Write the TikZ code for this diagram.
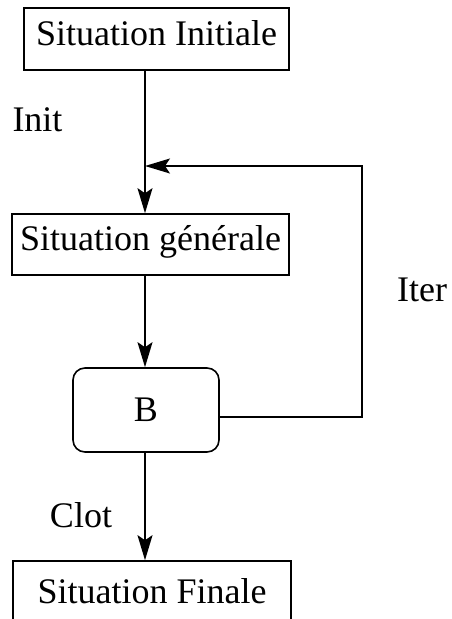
\documentclass[tikz,border=0pt]{standalone}
\usepackage{fontspec}
\setmainfont{Liberation Serif}
\usetikzlibrary{positioning,arrows.meta}

\begin{document}
\begin{tikzpicture}[x=1pt,y=-1pt,line width=1.6pt,
    font=\fontsize{36}{42}\selectfont,
    arr/.style={-{Stealth[length=25pt,width=15pt,inset=5pt]}},
    sit/.style={draw,rectangle,inner sep=0pt,text height=23pt,text depth=11pt},
    blk/.style={draw,rounded corners=12pt,inner sep=0pt,minimum width=146pt,minimum height=84pt}]
    \useasboundingbox (0,0) rectangle (451,619);

    \node[sit,minimum width=265pt,minimum height=62pt] (A) at (156.5,39)  {Situation Initiale};
    \node[sit,minimum width=277pt,minimum height=61pt] (G) at (150.5,244.5) {Situation générale};
    \node[blk]                                         (B) at (146,410)   {B};
    \node[sit,minimum width=278pt,minimum height=72pt] (F) at (152,597)   {Situation Finale};

    \coordinate (J) at (145,166);
    \coordinate (R) at (362,166);

    \node (init) at (37.5,120) {Init};
    \node (iter) at (422,290)  {Iter};
    \node (clot) at (81,515)   {Clot};

    % paths down the chain
    \draw[arr] (J |- A.south) -- (J |- G.north);
    \draw[arr] (J |- G.south) -- (J |- B.north);
    \draw[arr] (J |- B.south) -- (J |- F.north);
    % path back for the loop
    \draw[arr] ([yshift=-7pt]B.east) -| (R) -- (J);

\end{tikzpicture}
\end{document}
